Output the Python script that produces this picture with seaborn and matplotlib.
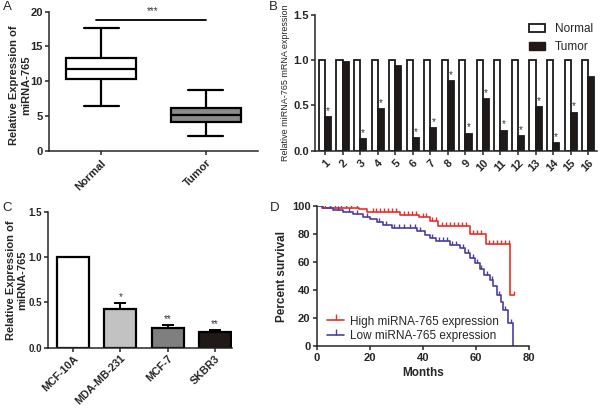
import numpy as np
import pandas as pd
import matplotlib
matplotlib.use("Agg")
import matplotlib.pyplot as plt
import seaborn as sns
from matplotlib.lines import Line2D
from matplotlib.patches import Patch

# ---------------- data ----------------
# Panel A : five-number summaries (min, Q1, median, Q3, max)
box_groups = ["Normal", "Tumor"]
normal_five = [6.5, 10.3, 11.7, 13.4, 17.65]
tumor_five = [2.15, 4.2, 5.2, 6.2, 8.8]
box_colors = ["white", "#8a8a8a"]

# Panel B : paired samples
samples = [str(i) for i in range(1, 17)]
normal_rel = [1.0] * 16
tumor_rel = [0.37, 0.98, 0.13, 0.46, 0.94, 0.14, 0.25, 0.77,
             0.19, 0.57, 0.22, 0.16, 0.48, 0.08, 0.42, 0.82]
tumor_sig = [1, 0, 1, 1, 0, 1, 1, 1, 1, 1, 1, 1, 1, 1, 1, 0]

# Panel C : cell lines
cell_lines = ["MCF-10A", "MDA-MB-231", "MCF-7", "SKBR3"]
cell_expr = [1.0, 0.43, 0.22, 0.176]
cell_err = [0.0, 0.06, 0.03, 0.022]
cell_sig = ["", "*", "**", "**"]
cell_colors = ["white", "#c2c2c2", "#7f7f7f", "#231815"]

# Panel D : Kaplan-Meier steps
high_t = [0, 2, 16, 19, 31.5, 38.6, 42.5, 45.8, 57.7, 63.8, 72.8, 74.2]
high_s = [100, 98.8, 97.6, 95.9, 93.8, 91.8, 89.6, 85.5, 80.2, 72.6, 36.4, 36.4]
high_cens = [3, 5, 7, 9, 11, 13, 15, 21, 22.5, 24, 25.5, 27, 28.5, 30, 33, 34.5,
             36, 37.5, 40, 41.2, 43.5, 44.8, 47, 48.5, 50, 51.5, 53, 54.5, 56,
             59, 60.5, 62, 65, 66.5, 68, 69.5, 71, 72.2, 74.2]
low_t = [0, 2.5, 6.2, 10, 13.8, 17.5, 20, 22.6, 25, 28.2, 37.8, 40.7, 42.5, 45,
         50, 53.9, 55.8, 57.6, 59.5, 61.4, 62.9, 65.2, 66.4, 67.9, 69.2, 70.2,
         72.1, 74.0]
low_s = [100, 98.8, 97.1, 95.5, 94.0, 92.4, 90.5, 88.8, 86.4, 84.3, 82.0, 79.5,
         77.2, 75.2, 72.5, 69.8, 66.2, 62.7, 59.2, 55.0, 50.7, 47.1, 43.1, 36.4,
         31.7, 25.8, 16.4, 0]
low_cens = [1.5, 5, 8, 12, 15, 19, 23.5, 26, 29, 31, 33, 35, 37, 39, 43.5, 46,
            47.5, 49, 51, 52.5, 55, 57, 59, 60.5, 62, 64, 66, 68.5, 71, 73]
high_label = "High miRNA-765 expression"
low_label = "Low miRNA-765 expression"
red = "#e8302a"
blue = "#4a3fa0"

# ---------------- style ----------------
sns.set_style("ticks")
plt.rcParams["font.family"] = ["Liberation Sans", "DejaVu Sans"]
plt.rcParams["axes.linewidth"] = 1.1
plt.rcParams["xtick.major.width"] = 1.1
plt.rcParams["ytick.major.width"] = 1.1
plt.rcParams["xtick.major.size"] = 3
plt.rcParams["ytick.major.size"] = 3
plt.rcParams["xtick.major.pad"] = 2
plt.rcParams["ytick.major.pad"] = 1.5

W, H = 602, 408
fig = plt.figure(figsize=(W / 100, H / 100), dpi=100)


def px_axes(l, t, r, b):
    return fig.add_axes([l / W, 1 - b / H, (r - l) / W, (b - t) / H])


def style_ticks(ax, size=8):
    for lab in ax.get_xticklabels() + ax.get_yticklabels():
        lab.set_fontweight("bold")
        lab.set_fontsize(size)
    sns.despine(ax=ax)


# ---------------- Panel A ----------------
axA = px_axes(49, 11.7, 258, 150.7)
dfA = pd.DataFrame({
    "group": np.repeat(box_groups, 5),
    "value": normal_five + tumor_five,
})
sns.boxplot(data=dfA, x="group", y="value", hue="group", palette=box_colors,
            whis=(0, 100), width=0.67, linewidth=1.6, linecolor="black",
            legend=False, ax=axA)
axA.set_xlim(-0.5, 1.5)
axA.set_ylim(0, 20)
axA.set_yticks([0, 5, 10, 15, 20])
axA.set_xlabel("")
axA.set_ylabel("Relative Expression of\nmiRNA-765", fontsize=8,
               fontweight="bold", linespacing=1.25)
axA.yaxis.set_label_coords((31 - 49) / 209, 0.47)
axA.plot([-0.05, 1.0], [18.8, 18.8], color="black", lw=1.3, clip_on=False)
axA.text(0.49, 19.3, "***", ha="center", va="bottom", fontsize=7, color="#333333")
style_ticks(axA)
plt.setp(axA.get_xticklabels(), rotation=45, ha="right", rotation_mode="anchor")

# ---------------- Panel B ----------------
axB = px_axes(315, 15, 597, 150.7)
dfB = pd.DataFrame({
    "sample": samples * 2,
    "group": ["Normal"] * 16 + ["Tumor"] * 16,
    "value": normal_rel + tumor_rel,
})
sns.barplot(data=dfB, x="sample", y="value", hue="group",
            palette={"Normal": "white", "Tumor": "#231815"},
            edgecolor="#1a1a1a", linewidth=1.3, width=0.7, ax=axB)
for bar, s in zip(axB.containers[1], tumor_sig):
    if s:
        axB.text(bar.get_x() + bar.get_width() / 2, bar.get_height() + 0.015, "*",
                 ha="center", va="bottom", fontsize=7, color="#333333")
axB.set_xlim(-0.57, 15.5)
axB.set_ylim(0, 1.5)
axB.set_yticks([0, 0.5, 1.0, 1.5])
axB.set_yticklabels(["0.0", "0.5", "1.0", "1.5"])
axB.set_xlabel("")
axB.set_ylabel("Relative miRNA-765 mRNA expression", fontsize=6.5, labelpad=2)
axB.legend(handles=[Patch(facecolor="white", edgecolor="#1a1a1a", lw=1.3, label="Normal"),
                    Patch(facecolor="#231815", edgecolor="#231815", label="Tumor")],
           frameon=False, loc="upper left", bbox_to_anchor=(0.72, 1.02),
           fontsize=8.5, handlelength=1.4, handleheight=0.7, handletextpad=0.8,
           labelspacing=0.5)
style_ticks(axB)
plt.setp(axB.get_xticklabels(), rotation=45, ha="right", rotation_mode="anchor")

# ---------------- Panel C ----------------
axC = px_axes(48.3, 212, 231.7, 347.7)
dfC = pd.DataFrame({"cell": cell_lines, "expr": cell_expr})
sns.barplot(data=dfC, x="cell", y="expr", hue="cell", palette=cell_colors,
            edgecolor="black", linewidth=1.6, width=0.68, legend=False, ax=axC)
bars = sorted(axC.patches, key=lambda p: p.get_x())
for bar, v, e, s in zip(bars, cell_expr, cell_err, cell_sig):
    xc = bar.get_x() + bar.get_width() / 2
    if e > 0:
        axC.errorbar([xc], [v], yerr=[[0], [e]], color="black", lw=1.4,
                     capsize=4.5, capthick=1.4)
    if s:
        axC.text(xc, v + e + 0.01, s, ha="center", va="bottom", fontsize=7,
                 color="#333333")
axC.set_xlim(-0.52, 3.35)
axC.set_ylim(0, 1.5)
axC.set_yticks([0, 0.5, 1.0, 1.5])
axC.set_yticklabels(["0.0", "0.5", "1.0", "1.5"])
axC.set_xlabel("")
axC.set_ylabel("Relative Expression of\nmiRNA-765", fontsize=8,
               fontweight="bold", linespacing=1.25)
axC.yaxis.set_label_coords((27.5 - 48.3) / 183.4, 0.5)
style_ticks(axC)
plt.setp(axC.get_yticklabels(), fontsize=7)
axC.tick_params(axis="x", pad=1)
plt.setp(axC.get_xticklabels(), rotation=45, ha="right", rotation_mode="anchor",
         fontsize=7.7)

# ---------------- Panel D ----------------
axD = px_axes(316.7, 206, 529.3, 346)
sns.lineplot(x=high_t, y=high_s, drawstyle="steps-post", color=red, lw=1.2,
             estimator=None, ax=axD)
sns.lineplot(x=low_t, y=low_s, drawstyle="steps-post", color=blue, lw=1.2,
             estimator=None, ax=axD)


def step_at(times, surv, t):
    i = np.searchsorted(times, t, side="right") - 1
    return np.asarray(surv)[i]


axD.plot(high_cens, step_at(high_t, high_s, high_cens), ls="none", marker=2,
         ms=3.2, mew=1.0, color=red)
axD.plot(low_cens, step_at(low_t, low_s, low_cens), ls="none", marker=2,
         ms=3.2, mew=1.0, color=blue)
axD.set_xlim(0, 80)
axD.set_ylim(0, 100)
axD.set_xticks([0, 20, 40, 60, 80])
axD.set_yticks([0, 20, 40, 60, 80, 100])
axD.set_xlabel("Months", fontsize=8.5, fontweight="bold", labelpad=3)
axD.set_ylabel("Percent survival", fontsize=8.5, fontweight="bold", labelpad=3)
axD.legend(handles=[Line2D([0], [0], color=red, lw=1.2, marker=2, ms=4, label=high_label),
                    Line2D([0], [0], color=blue, lw=1.2, marker=2, ms=4, label=low_label)],
           frameon=False, loc="lower left", bbox_to_anchor=(0.0, -0.045),
           fontsize=8.5, handlelength=1.4, handletextpad=0.55, labelspacing=0.18)
style_ticks(axD)

# ---------------- panel letters ----------------
for letter, x, y in [("A", 3, 1), ("B", 269, 1), ("C", 2, 202), ("D", 270, 202)]:
    fig.text(x / W, 1 - y / H, letter, fontsize=9.5, va="top", ha="left")

fig.savefig("out.png", dpi=100)
